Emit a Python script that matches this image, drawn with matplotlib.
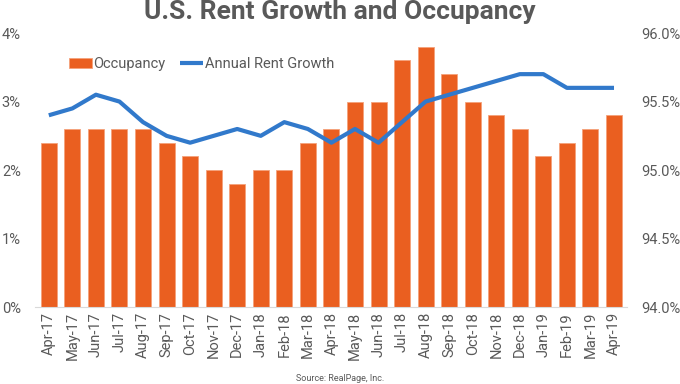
import matplotlib.pyplot as plt
from matplotlib.ticker import FuncFormatter

plt.rcParams['font.family'] = ['Roboto', 'DejaVu Sans']

months = ['Apr-17', 'May-17', 'Jun-17', 'Jul-17', 'Aug-17', 'Sep-17', 'Oct-17', 'Nov-17',
          'Dec-17', 'Jan-18', 'Feb-18', 'Mar-18', 'Apr-18', 'May-18', 'Jun-18', 'Jul-18',
          'Aug-18', 'Sep-18', 'Oct-18', 'Nov-18', 'Dec-18', 'Jan-19', 'Feb-19', 'Mar-19', 'Apr-19']
occupancy = [95.2, 95.3, 95.3, 95.3, 95.3, 95.2, 95.1, 95.0, 94.9, 95.0, 95.0, 95.2, 95.3,
             95.5, 95.5, 95.8, 95.9, 95.7, 95.5, 95.4, 95.3, 95.1, 95.2, 95.3, 95.4]
rent_growth = [2.8, 2.9, 3.1, 3.0, 2.7, 2.5, 2.4, 2.5, 2.6, 2.5, 2.7, 2.6, 2.4,
               2.6, 2.4, 2.7, 3.0, 3.1, 3.2, 3.3, 3.4, 3.4, 3.2, 3.2, 3.2]

orange = '#EA5F20'
blue = '#3179CB'
gray = '#595959'

fig = plt.figure(figsize=(6.8, 3.84), dpi=100)
ax = fig.add_axes([0.051, 0.2, 0.871, 0.714])
ax2 = ax.twinx()

x = range(len(months))
# bars on right axis (occupancy), line on left axis (rent growth)
bars = ax2.bar(x, occupancy, width=0.68, bottom=0, color=orange, edgecolor='#F5A27A',
               linewidth=0.6, label='Occupancy', zorder=1)
ax2.set_ylim(94, 96)
line, = ax.plot(x, rent_growth, color=blue, linewidth=3, label='Annual Rent Growth',
                solid_capstyle='butt')
ax.set_ylim(0, 4)
ax.set_zorder(ax2.get_zorder() + 1)
ax.patch.set_visible(False)

ax.set_xlim(-0.6, len(months) - 0.45)
ax.set_xticks(list(x))
ax.set_xticklabels(months, rotation=90, color=gray)
ax.set_yticks([0, 1, 2, 3, 4])
ax.yaxis.set_major_formatter(FuncFormatter(lambda v, p: f'{v:.0f}%'))
ax2.set_yticks([94.0, 94.5, 95.0, 95.5, 96.0])
ax2.yaxis.set_major_formatter(FuncFormatter(lambda v, p: f'{v:.1f}%'))
for a in (ax, ax2):
    a.tick_params(length=0, labelsize=10.5, colors=gray)
    for s in a.spines.values():
        s.set_visible(False)
ax.tick_params(axis='y', pad=10)
ax2.tick_params(axis='y', pad=10)
ax.spines['bottom'].set_visible(True)
ax.spines['bottom'].set_color('#D9D9D9')

ax.legend([bars, line], ['Occupancy', 'Annual Rent Growth'], loc='upper left',
          bbox_to_anchor=(0.035, 0.96), ncol=2, frameon=False, fontsize=10.5,
          labelcolor=gray, handlelength=1.6, handletextpad=0.1, columnspacing=1.0)

fig.suptitle('U.S. Rent Growth and Occupancy', y=1.0, fontsize=19, fontweight='bold',
             color=gray)
fig.text(0.5, 0.008, 'Source: RealPage, Inc.', ha='center', fontsize=6.5, color=gray)

fig.savefig('out.png', dpi=100)
